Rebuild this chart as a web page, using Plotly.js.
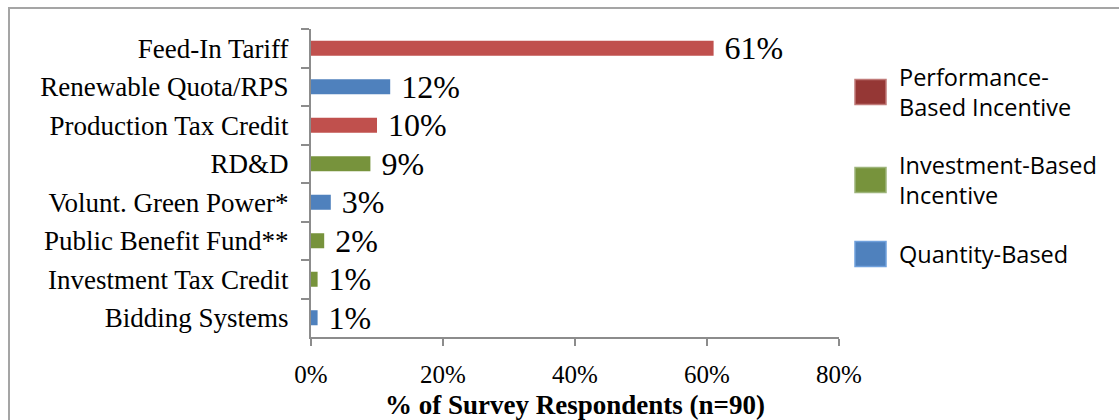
<!DOCTYPE html>
<html>
<head>
<meta charset="utf-8">
<script src="https://cdn.plot.ly/plotly-3.0.1.min.js"></script>
<style>
  html, body { margin: 0; padding: 0; background: #fff; overflow: hidden; }
  #frame { position: absolute; left: 8px; top: 7px; width: 1300px; height: 600px;
           border: 2px solid #a5a5a5; box-sizing: border-box; }
  #chart { position: absolute; left: 0; top: 0; width: 1119px; height: 420px; }
</style>
</head>
<body>
<div id="frame"></div>
<div id="chart"></div>
<script>
// Support instruments named by survey respondents
const categories = ['Feed-In Tariff', 'Renewable Quota/RPS', 'Production Tax Credit', 'RD&D',
                    'Volunt. Green Power*', 'Public Benefit Fund**', 'Investment Tax Credit', 'Bidding Systems'];
const shares = [61, 12, 10, 9, 3, 2, 1, 1];          // % of respondents (n=90)
const groupOf = [0, 2, 0, 1, 2, 1, 1, 2];             // index into groupNames
const groupNames = ['Performance-<br>Based Incentive', 'Investment-Based<br>Incentive', 'Quantity-Based'];
const xTicks = [0, 20, 40, 60, 80];

// styling
const barColors = ['#C0504D', '#77933C', '#4F81BD'];
const keyColors = ['#953735', '#77933C', '#4F81BD'];
const keyEdges  = ['#c07a78', '#9db47a', '#6fa0dc'];
const serif = 'Liberation Serif, Times New Roman, serif';

const W = 1119, H = 420;
const M = { l: 311, r: 280, t: 29, b: 83 };
const pw = W - M.l - M.r, ph = H - M.t - M.b;
const px = x => (x - M.l) / pw;
const py = y => (H - M.b - y) / ph;

const trace = {
  type: 'bar',
  orientation: 'h',
  y: categories,
  x: shares,
  marker: { color: groupOf.map(g => barColors[g]) },
  text: shares.map(v => '\u00A0' + v + '%'),
  textposition: 'outside',
  constraintext: 'none',
  cliponaxis: false,
  textfont: { family: serif, size: 32, color: '#000' },
  hoverinfo: 'skip',
  showlegend: false
};

// key: coloured swatches with labels to the right of the plot
const keyRows = [92, 180, 254];
const lineGap = 30;
const shapes = [], annotations = [];
groupNames.forEach((name, i) => {
  const yc = keyRows[i];
  shapes.push({
    type: 'rect', xref: 'paper', yref: 'paper',
    x0: px(855), x1: px(886), y0: py(yc + 12.5), y1: py(yc - 12.5),
    fillcolor: keyColors[i], line: { color: keyEdges[i], width: 1.5 }
  });
  const lines = name.split('<br>');
  lines.forEach((ln, k) => {
    annotations.push({
      xref: 'paper', yref: 'paper', x: px(897),
      y: py(yc + (k - (lines.length - 1) / 2) * lineGap),
      xanchor: 'left', yanchor: 'middle', align: 'left', showarrow: false,
      text: ln,
      font: { family: 'Open Sans, sans-serif', size: 23.5, color: '#000' }
    });
  });
});

const layout = {
  width: W, height: H,
  margin: M,
  paper_bgcolor: 'rgba(0,0,0,0)',
  plot_bgcolor: 'rgba(0,0,0,0)',
  bargap: 0.61,
  showlegend: false,
  xaxis: {
    range: [0, 80],
    tickvals: xTicks,
    ticktext: xTicks.map(v => v + '%'),
    showgrid: false, zeroline: false,
    showline: true, linecolor: '#8c8c8c', linewidth: 2,
    ticks: 'outside', ticklen: 7, tickwidth: 2, tickcolor: '#8c8c8c',
    ticklabelstandoff: 7,
    tickfont: { family: serif, size: 25, color: '#000' },
    title: {
      text: '<b>% of Survey Respondents (n=90)</b>',
      font: { family: serif, size: 27, color: '#000' },
      standoff: 8
    },
    fixedrange: true
  },
  yaxis: {
    type: 'category',
    categoryorder: 'array', categoryarray: categories,
    autorange: 'reversed',
    showgrid: false, zeroline: false,
    showline: true, linecolor: '#8c8c8c', linewidth: 2,
    ticks: 'outside', ticklen: 8, tickwidth: 2, tickcolor: '#8c8c8c',
    tickson: 'boundaries',
    ticklabelstandoff: 15,
    tickfont: { family: serif, size: 27, color: '#000' },
    fixedrange: true
  },
  shapes: shapes,
  annotations: annotations
};

Plotly.newPlot('chart', [trace], layout, { displayModeBar: false, staticPlot: true });
</script>
</body>
</html>
